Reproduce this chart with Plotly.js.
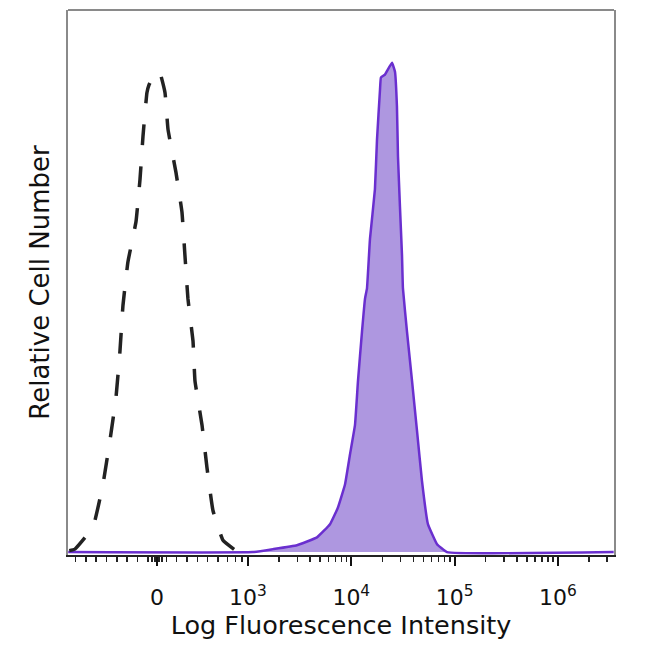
<!DOCTYPE html>
<html>
<head>
<meta charset="utf-8">
<script src="https://cdn.plot.ly/plotly-3.0.1.min.js"></script>
<style>html,body{margin:0;padding:0;background:#fff;}#chart{width:650px;height:650px;}</style>
</head>
<body>
<div id="chart"></div>
<script>
// x values are in display (biexponential) units: 10^n sits at n
var tickVals = [2.119, 3, 4, 5, 6];
var tickText = ['0', '10<sup>3</sup>', '10<sup>4</sup>', '10<sup>5</sup>', '10<sup>6</sup>'];

// Isotype control (dashed)
var controlX = [1.27, 1.325, 1.500, 1.596, 1.664, 1.722, 1.761, 1.790, 1.838, 1.916, 1.955, 1.984, 2.022, 2.042, 2.090, 2.129, 2.148, 2.197, 2.226, 2.303, 2.361, 2.390, 2.419, 2.468, 2.487, 2.555, 2.603, 2.661, 2.758, 2.874];
var controlY = [0.3, 0.6, 5.1, 13.8, 22.8, 31.5, 41.1, 50.4, 59.3, 67.5, 76.2, 85.0, 93.9, 95.5, 97.5, 98.2, 98.0, 93.9, 86.4, 77.6, 69.5, 60.6, 51.8, 43.1, 35.0, 26.0, 17.3, 8.5, 2.4, 0.4];

// Stained sample (filled purple)
var stainX = [1.26, 3.048, 3.242, 3.474, 3.668, 3.794, 3.871, 3.939, 3.987, 4.036, 4.065, 4.104, 4.133, 4.152, 4.181, 4.229, 4.249, 4.278, 4.287, 4.326, 4.394, 4.423, 4.442, 4.452, 4.471, 4.491, 4.500, 4.539, 4.588, 4.636, 4.684, 4.742, 4.830, 4.926, 6.54];
var stainY = [0, 0, 0.6, 1.4, 3.0, 5.7, 9.1, 13.8, 19.9, 26.0, 35.0, 45.1, 51.8, 53.9, 64.0, 74.2, 84.3, 94.5, 97.0, 97.6, 100, 98.2, 91.1, 80.9, 70.7, 60.6, 53.9, 45.1, 35.0, 24.8, 14.6, 5.7, 1.6, 0, 0];

// minor tick positions
var linearMinor = [1.33, 1.43, 1.53, 1.63, 1.73, 1.83, 1.93, 2.03, 2.07, 2.10, 2.14, 2.17, 2.21, 2.31, 2.41, 2.51, 2.61, 2.71, 2.80, 2.88, 2.94];
var minorTicks = linearMinor.slice();
for (var d = 3; d <= 6; d++) {
  for (var k = 2; k <= 9; k++) {
    var v = d + Math.log10(k);
    if (v < 6.54) minorTicks.push(v);
  }
}

var traces = [
  {
    x: stainX, y: stainY, type: 'scatter', mode: 'lines',
    fill: 'tozeroy', fillcolor: 'rgba(170,145,222,0.95)',
    line: {color: '#6a2fcf', width: 2.5, shape: 'spline', smoothing: 0.3},
    hoverinfo: 'skip'
  },
  {
    x: controlX, y: controlY, type: 'scatter', mode: 'lines',
    line: {color: '#222222', width: 3.5, dash: '21px,21px', shape: 'spline', smoothing: 0.3},
    hoverinfo: 'skip'
  }
];

var layout = {
  width: 650, height: 650,
  margin: {l: 68, r: 36, t: 10, b: 95},
  paper_bgcolor: '#ffffff', plot_bgcolor: '#ffffff',
  showlegend: false,
  font: {family: 'DejaVu Sans, Verdana, sans-serif', color: '#111'},
  xaxis: {
    range: [1.258, 6.543],
    tickmode: 'array', tickvals: tickVals, ticktext: tickText,
    ticks: 'outside', ticklen: 9, tickwidth: 2, tickcolor: '#111',
    tickfont: {size: 22, color: '#111'},
    ticklabelstandoff: 13,
    minor: {tickmode: 'array', tickvals: minorTicks, ticks: 'outside', ticklen: 5, tickwidth: 1.5, tickcolor: '#222', showgrid: false},
    showline: true, linecolor: '#222', linewidth: 2,
    showgrid: false, zeroline: false,
    title: {text: 'Log Fluorescence Intensity', font: {size: 25.5, color: '#111'}, standoff: 4}
  },
  yaxis: {
    range: [-0.6, 110.8],
    showticklabels: false, ticks: '',
    showline: true, linecolor: '#8a8a8a', linewidth: 2, mirror: true,
    showgrid: false, zeroline: false,
    title: {text: 'Relative Cell Number', font: {size: 26, color: '#111'}, standoff: 9}
  },
  shapes: [
    {type: 'line', xref: 'paper', yref: 'paper', x0: 0, x1: 1, y0: 1, y1: 1, line: {color: '#8a8a8a', width: 2}}
  ]
};

Plotly.newPlot('chart', traces, layout, {displayModeBar: false, staticPlot: true});
</script>
</body>
</html>
